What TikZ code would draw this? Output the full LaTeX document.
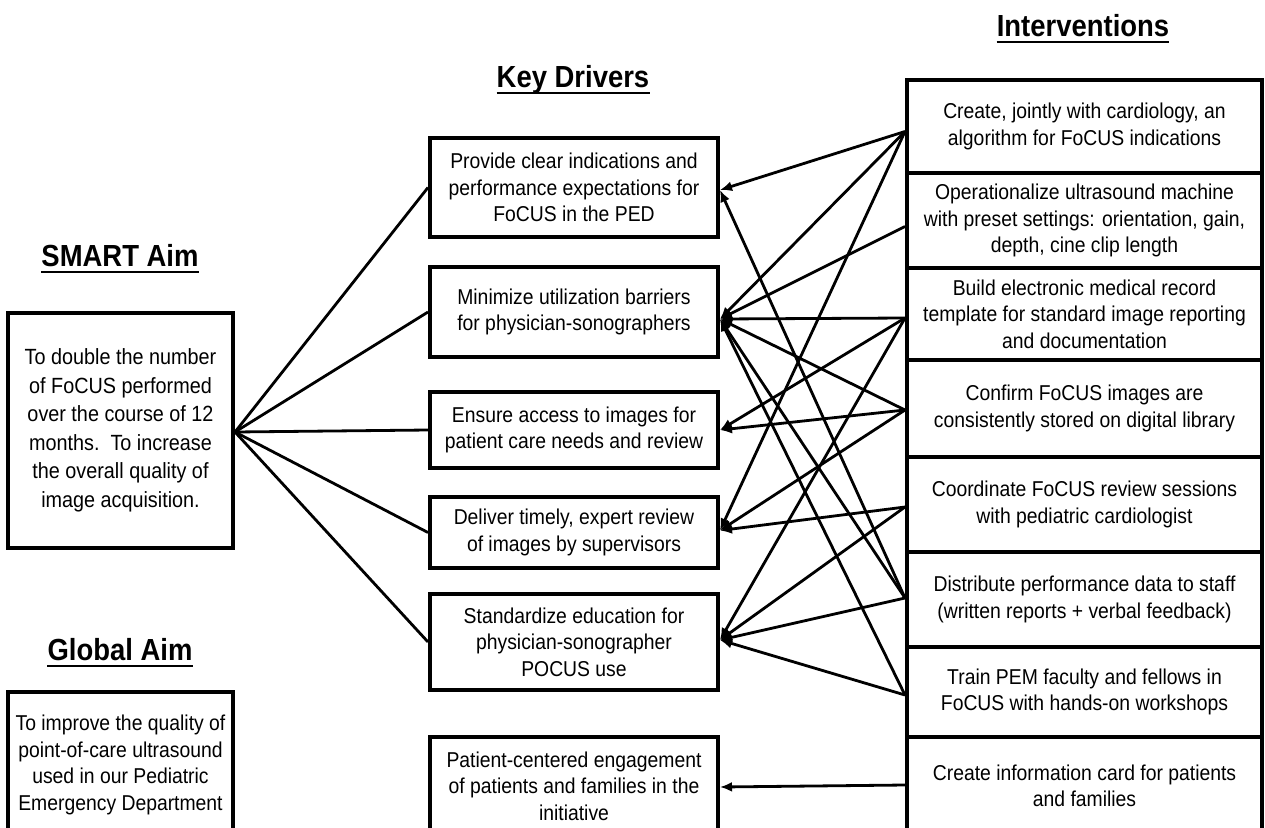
\documentclass[tikz,border=0pt]{standalone}
\usepackage{fontspec}
\setmainfont{Liberation Sans}[FakeStretch=0.9]
\usetikzlibrary{arrows.meta}
\begin{document}
\begin{tikzpicture}[x=1pt,y=-1pt,
  box/.style={draw, line width=4pt, align=center, inner sep=0pt, font=\fontsize{21.5}{26.5}\selectfont},
  kd/.style={box, minimum width=288pt},
  iv/.style={box, minimum width=355pt},
  aimbox/.style={box, minimum width=225pt},
  hdr/.style={inner sep=0pt, font=\fontsize{30.5}{34}\selectfont\bfseries},
  uline/.style={line width=2.2pt},
  link/.style={line width=2.8pt},
  arr/.style={line width=2.8pt, -{Latex[length=12pt,width=10pt]}}
]
\useasboundingbox (0,0) rectangle (1265,827);

% headers
\node[hdr] (hint) at (1083,26) {Interventions};
\node[hdr] (hkd) at (573,80) {Key Drivers};
\node[hdr] (hsm) at (120,256) {SMART Aim};
\node[hdr] (hgl) at (120,650) {Global Aim};
\foreach \h in {hint,hkd,hsm,hgl}
  \draw[uline] ([yshift=-5pt]\h.base west) -- ([yshift=-5pt]\h.base east);

% aims
\node[aimbox, minimum height=235pt, font=\fontsize{22}{28.5}\selectfont] (smart) at (120.5,430.5)
  {To double the number\\of FoCUS performed\\over the course of 12\\months.\ \ To increase\\the overall quality of\\image acquisition.};
\node[aimbox, minimum height=146pt] (glob) at (120.5,765)
  {To improve the quality of\\point-of-care ultrasound\\used in our Pediatric\\Emergency Department};

% key drivers
\node[kd, minimum height=99pt] (k1) at (574,187.5) {Provide clear indications and\\performance expectations for\\FoCUS in the PED};
\node[kd, minimum height=90pt] (k2) at (574,312) {Minimize utilization barriers\\for physician-sonographers};
\node[kd, minimum height=76pt] (k3) at (574,430) {Ensure access to images for\\patient care needs and review};
\node[kd, minimum height=71pt] (k4) at (574,532.5) {Deliver timely, expert review\\of images by supervisors};
\node[kd, minimum height=96pt] (k5) at (574,642) {Standardize education for\\physician-sonographer\\POCUS use};
\node[kd, minimum height=98pt] (k6) at (574,786) {Patient-centered engagement\\of patients and families in the\\initiative};

% interventions
\node[iv, minimum height=93pt] (i1) at (1084.5,126.5) {Create, jointly with cardiology, an\\algorithm for FoCUS indications};
\node[iv, minimum height=95pt] (i2) at (1084.5,220.5) {Operationalize ultrasound machine\\with preset settings: orientation, gain,\\depth, cine clip length};
\node[iv, minimum height=92pt] (i3) at (1084.5,314) {Build electronic medical record\\template for standard image reporting\\and documentation};
\node[iv, minimum height=97pt] (i4) at (1084.5,408.5) {Confirm FoCUS images are\\consistently stored on digital library};
\node[iv, minimum height=95pt] (i5) at (1084.5,504.5) {Coordinate FoCUS review sessions\\with pediatric cardiologist};
\node[iv, minimum height=95pt] (i6) at (1084.5,599.5) {Distribute performance data to staff\\(written reports + verbal feedback)};
\node[iv, minimum height=90pt] (i7) at (1084.5,692) {Train PEM faculty and fellows in\\FoCUS with hands-on workshops};
\node[iv, minimum height=98pt] (i8) at (1084.5,786) {Create information card for patients\\and families};

% connection points
\coordinate (sp) at ([yshift=-1.5pt]smart.east);
\coordinate (a1) at ([yshift=-2.5pt]k1.east);
\coordinate (a2) at ([yshift=-7pt]k2.east);
\coordinate (a3) at (k3.east);
\coordinate (a4) at ([yshift=2pt]k4.east);
\coordinate (a5) at ([yshift=2pt]k5.east);
\coordinate (a6) at ([yshift=-1pt]k6.east);
\coordinate (b1) at ([yshift=-5pt]i1.west);
\coordinate (b2) at ([yshift=-6pt]i2.west);
\coordinate (b3) at ([yshift=-4pt]i3.west);
\coordinate (b4) at ([yshift=-1.5pt]i4.west);
\coordinate (b5) at ([yshift=-2.5pt]i5.west);
\coordinate (b6) at ([yshift=1.5pt]i6.west);
\coordinate (b7) at ([yshift=-3pt]i7.west);
\coordinate (b8) at ([yshift=1pt]i8.west);

% aim to drivers
\foreach \k in {k1,k2,k3,k4,k5}
  \draw[link] (sp) -- (\k.west);

% interventions to drivers
\draw[arr] (b1) -- (a1);
\draw[arr] (b1) -- (a2);
\draw[arr] (b1) -- (a4);
\draw[arr] (b2) -- (a2);
\draw[arr] (b3) -- (a2);
\draw[arr] (b3) -- (a3);
\draw[arr] (b3) -- (a5);
\draw[arr] (b4) -- (a2);
\draw[arr] (b4) -- (a3);
\draw[arr] (b4) -- (a4);
\draw[arr] (b5) -- (a4);
\draw[arr] (b5) -- (a5);
\draw[arr] (b6) -- (a1);
\draw[arr] (b6) -- (a2);
\draw[arr] (b6) -- (a5);
\draw[arr] (b7) -- (a2);
\draw[arr] (b7) -- (a5);
\draw[arr] (b8) -- (a6);
\end{tikzpicture}
\end{document}
